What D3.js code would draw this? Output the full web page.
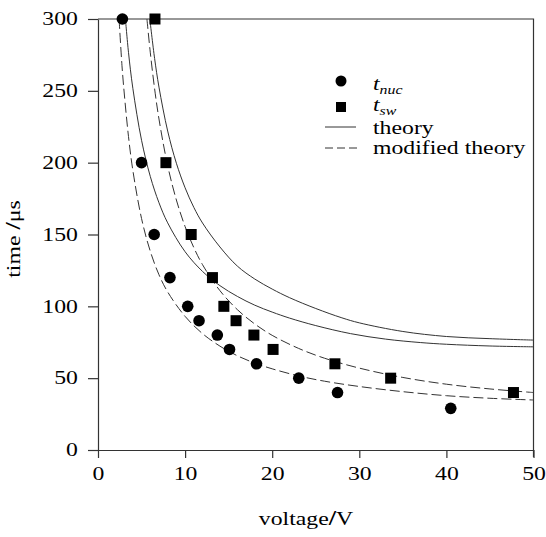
<!DOCTYPE html>
<html><head><meta charset="utf-8">
<script src="https://cdn.jsdelivr.net/npm/d3@7"></script>
<style>body{margin:0;background:#fff}svg{display:block}</style>
</head><body>
<svg id="c" width="546" height="537"></svg>
<script>
// ---- data ----
const xTicks = [0, 10, 20, 30, 40, 50];
const yTicks = [0, 50, 100, 150, 200, 250, 300];

const nucVoltage = [2.8, 5.0, 6.45, 8.26, 10.3, 11.6, 13.7, 15.1, 18.2, 23.05, 27.5, 40.5];
const nucTime    = [300, 200, 150, 120, 100, 90, 80, 70, 60, 50, 40, 29];

const swVoltage = [6.54, 7.8, 10.7, 13.14, 14.45, 15.85, 17.9, 20.1, 27.2, 33.6, 47.7];
const swTime    = [300, 200, 150, 120, 100, 90, 80, 70, 60, 50, 40];

const theoryNucV = [3.15, 3.5, 4, 5, 6, 7, 8, 10, 12, 14, 16, 18, 20, 22, 25, 29, 33, 37, 40, 45, 50];
const theoryNucT = [300, 276.8, 251.8, 215.6, 190.5, 172.1, 158.1, 138, 124.3, 114.4, 106.9, 100.8, 96.0, 91.8, 86.6, 81.0, 77.2, 74.8, 73.6, 72.4, 71.8];

const theorySwV = [5.95, 6.5, 7, 8, 9, 10, 11, 12, 14, 16, 18, 20, 22, 25, 28, 30, 35, 40, 45, 50];
const theorySwT = [300, 272.5, 252.6, 222, 199.6, 182.5, 168.9, 158, 141.3, 128, 119, 112, 106, 98.5, 92, 88.5, 82.5, 79, 77.5, 76.5];

const modNucV = [2.42, 2.75, 3, 3.5, 4, 5, 6, 7, 8, 10, 12, 14, 16, 18, 20, 23, 26, 30, 35, 40, 45, 50];
const modNucT = [300, 267.8, 249.2, 218.2, 194.7, 161.1, 138.4, 122, 110, 93, 81, 72.3, 65.6, 60.5, 56.5, 51.6, 47.9, 44.2, 40.6, 37.8, 36, 34.8];

const modSwV = [5.62, 6, 6.5, 7, 8, 9, 10, 11, 12, 14, 16, 18, 20, 23, 26, 30, 35, 40, 45, 50];
const modSwT = [300, 276.9, 251.4, 230.4, 197.9, 174, 155.5, 140.9, 129, 110.9, 97.7, 87.7, 79.8, 70.8, 63.9, 57, 50.5, 45.8, 42.5, 40];

const legendLabels = ["nuc", "sw", "theory", "modified theory"];

// ---- drawing ----
const SX = 1.32;
const FONT = "'Liberation Serif','Times New Roman',Times,serif";
const INK = "#333";
const svg = d3.select("#c");
const x = d3.scaleLinear().domain([0, 50]).range([98, 533.5]);
const y = d3.scaleLinear().domain([0, 300]).range([450, 19]);

// frame top/right
svg.append("path")
  .attr("d", `M${x(0)},${y(300)}H${x(50)}V${y(0)+7}`)
  .attr("fill", "none").attr("stroke", INK).attr("stroke-width", 1.2);

const gx = svg.append("g").attr("transform", `translate(0,${y(0)})`)
  .call(d3.axisBottom(x).tickValues(xTicks).tickSize(8).tickSizeOuter(0).tickPadding(9).tickFormat(d3.format("d")));
const gy = svg.append("g").attr("transform", `translate(${x(0)},0)`)
  .call(d3.axisLeft(y).tickValues(yTicks).tickSize(10).tickSizeOuter(0).tickPadding(5.2).tickFormat(d3.format("d")));
[gx, gy].forEach(g => {
  g.attr("font-family", FONT).attr("font-size", 18);
  g.selectAll("path,line").attr("stroke", INK).attr("stroke-width", 1.2);
  g.selectAll("text").attr("fill", "#000").attr("transform", `scale(${SX},1)`);
});
gy.selectAll("text").attr("x", -(10 + 5.2));

// curves
const line = d3.line().x(d => x(d[0])).y(d => y(d[1])).curve(d3.curveCatmullRom.alpha(0.5));
function drawCurve(vs, ts, dash) {
  svg.append("path").datum(d3.zip(vs, ts)).attr("d", line)
    .attr("fill", "none").attr("stroke", INK).attr("stroke-width", 1)
    .attr("stroke-dasharray", dash || null);
}
drawCurve(theoryNucV, theoryNucT);
drawCurve(theorySwV, theorySwT);
drawCurve(modNucV, modNucT, "10,4");
drawCurve(modSwV, modSwT, "10,4");

// markers
svg.append("g").selectAll("circle").data(d3.zip(nucVoltage, nucTime)).join("circle")
  .attr("cx", d => x(d[0])).attr("cy", d => y(d[1])).attr("r", 5.8).attr("fill", "#000");
const S = 11;
svg.append("g").selectAll("rect").data(d3.zip(swVoltage, swTime)).join("rect")
  .attr("x", d => x(d[0]) - S/2).attr("y", d => y(d[1]) - S/2).attr("width", S).attr("height", S).attr("fill", "#000");

// text helper
function txt(px, py, anchor, size, style) {
  return svg.append("text")
    .attr("transform", `translate(${px},${py}) scale(${SX},1)`)
    .attr("text-anchor", anchor).attr("font-family", FONT)
    .attr("font-size", size).attr("font-style", style || "normal").attr("fill", "#000");
}

// legend
svg.append("circle").attr("cx", 341).attr("cy", 81).attr("r", 5.5).attr("fill", "#000");
let t1 = txt(373, 90, "start", 18, "italic");
t1.append("tspan").text("t");
t1.append("tspan").attr("font-size", 12).attr("dy", 4).text(legendLabels[0]);

svg.append("rect").attr("x", 336).attr("y", 102).attr("width", 10).attr("height", 10).attr("fill", "#000");
let t2 = txt(373, 111, "start", 18, "italic");
t2.append("tspan").text("t");
t2.append("tspan").attr("font-size", 12).attr("dy", 4).text(legendLabels[1]);

svg.append("line").attr("x1", 325).attr("x2", 356).attr("y1", 127).attr("y2", 127)
  .attr("stroke", INK).attr("stroke-width", 1);
txt(373, 134, "start", 18).text(legendLabels[2]);

svg.append("line").attr("x1", 325).attr("x2", 357).attr("y1", 148).attr("y2", 148)
  .attr("stroke", INK).attr("stroke-width", 1).attr("stroke-dasharray", "8,4");
txt(373, 154, "start", 18).text(legendLabels[3]);

// axis titles
const xt = txt(306, 525, "middle", 18);
xt.append("tspan").text("voltage");
xt.append("tspan").attr("font-weight", "bold").attr("font-size", 20).text("/");
xt.append("tspan").text("V");

const yt = svg.append("text")
  .attr("transform", `translate(20,239) rotate(-90) scale(${SX},1)`)
  .attr("text-anchor", "middle").attr("font-family", FONT).attr("font-size", 18).attr("fill", "#000");
yt.append("tspan").text("time ");
yt.append("tspan").attr("font-weight", "bold").attr("font-size", 20).text("/");
yt.append("tspan").text("\u03bcs");
</script>
</body></html>
